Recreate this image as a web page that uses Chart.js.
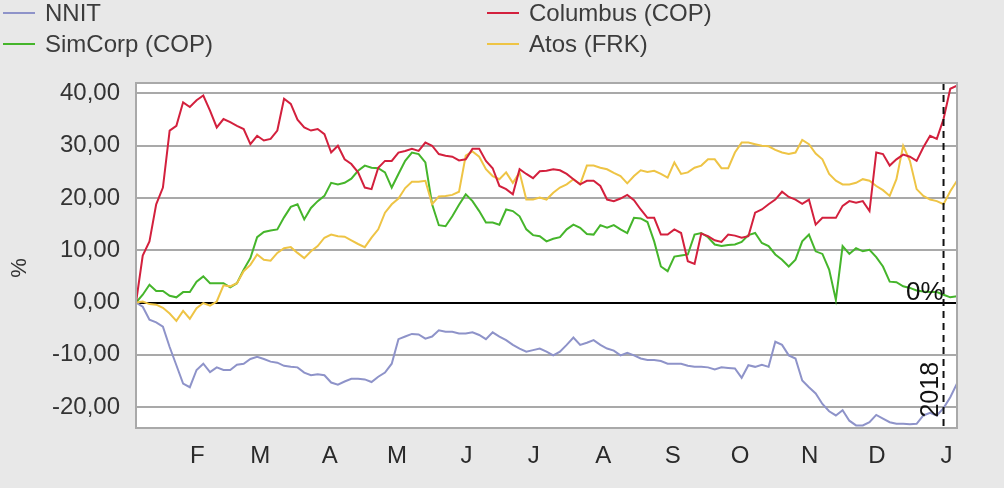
<!DOCTYPE html>
<html>
<head>
<meta charset="utf-8">
<script src="https://cdn.jsdelivr.net/npm/chart.js@4.4.1/dist/chart.umd.min.js"></script>
<style>
    html, body { margin: 0; padding: 0; background: #e8e8e8; }
    #wrap { position: relative; width: 1004px; height: 488px; overflow: hidden; }
    #perfChart { position: absolute; left: 0; top: 0; }
    .leg { position: absolute; font: 24px "Liberation Sans", Arial, sans-serif; color: #3c3c3c; line-height: 26px; white-space: nowrap; }
    .leg i { position: absolute; top: 12px; height: 2px; width: 32px; }
</style>
</head>
<body>
<div id="wrap">
    <canvas id="perfChart" width="1004" height="488"></canvas>
</div>
<script>
// --- DATA (one point every 3 days, day 0 = 6 Jan 2017) ---
const STEP_DAYS = 3;

const nnit = [
    0, -0.8, -3.3, -3.8, -4.6, -8.5, -12, -15.5, -16.2, -12.9,
    -11.7, -13.3, -12.4, -12.9, -12.9, -11.9, -11.7, -10.8, -10.4, -10.8,
    -11.3, -11.5, -12.1, -12.3, -12.4, -13.4, -13.9, -13.7, -13.9, -15.3,
    -15.7, -15.1, -14.6, -14.6, -14.7, -15.2, -14.2, -13.4, -11.7, -7,
    -6.5, -6, -6.1, -6.9, -6.5, -5.3, -5.6, -5.6, -5.9, -5.9,
    -5.7, -6.2, -7, -5.7, -6.5, -7.2, -8.1, -8.8, -9.4, -9.1,
    -8.8, -9.4, -10.1, -9.4, -8.1, -6.7, -8.1, -7.7, -7.2, -8.1,
    -8.8, -9.2, -10.1, -9.6, -10.1, -10.7, -11, -11, -11.2, -11.7,
    -11.7, -11.7, -12.1, -12.3, -12.3, -12.4, -12.8, -12.4, -12.5, -12.6,
    -14.4, -12, -12.3, -11.9, -12.3, -7.5, -8.1, -10.1, -10.7, -14.9,
    -16.2, -17.4, -19.4, -20.8, -21.6, -20.6, -22.6, -23.5, -23.5, -22.9,
    -21.5, -22.2, -22.9, -23.2, -23.2, -23.3, -23.2, -21.6, -21.1, -21.6,
    -20.2, -18.1, -15.5
];

const columbus = [
    0, 9, 11.7, 18.8, 22, 32.9, 33.8, 38.3, 37.4, 38.7,
    39.6, 36.7, 33.5, 35.1, 34.5, 33.8, 33.2, 30.3, 31.9, 31,
    31.3, 32.9, 39, 38, 35, 33.5, 32.9, 33.2, 32.2, 28.7,
    30, 27.4, 26.5, 24.9, 22, 21.7, 25.8, 27.1, 27.1, 28.7,
    29, 29.4, 29, 30.6, 30, 28.4, 28.1, 27.9, 27.2, 27.4,
    29.4, 29.4, 27.1, 25.7, 22.3, 21.7, 20.7, 25.5, 24.6, 23.8,
    25.1, 25.2, 25.5, 25.3, 24.6, 23.6, 22.6, 23.3, 23.3, 22.3,
    19.7, 19.4, 19.9, 20.6, 19.6, 17.8, 16.2, 16.2, 13, 13,
    14, 13.3, 7.9, 7.4, 13.2, 12.7, 11.9, 11.6, 13, 12.8,
    12.4, 12.7, 17.2, 17.8, 18.8, 19.7, 21.2, 20.2, 19.7, 18.9,
    19.7, 14.9, 16.2, 16.2, 16.2, 18.5, 19.4, 19.1, 19.4, 17.5,
    28.7, 28.4, 26.2, 27.4, 28.3, 27.9, 27.1, 29.7, 31.9, 31.3,
    35.1, 40.9, 41.5
];

const simcorp = [
    0, 1.5, 3.4, 2.2, 2.2, 1.3, 1, 2, 2, 4,
    5, 3.7, 3.7, 3.7, 2.9, 3.7, 6.3, 8.5, 12.5, 13.5,
    13.8, 14, 16.3, 18.3, 18.8, 15.9, 18.1, 19.4, 20.4, 22.9,
    22.6, 22.9, 23.7, 25.2, 26.2, 25.8, 25.7, 24.9, 22, 24.6,
    27.1, 28.7, 28.4, 26.8, 18.8, 14.8, 14.6, 16.5, 18.7, 20.7,
    19.4, 17.5, 15.3, 15.3, 14.9, 17.8, 17.5, 16.5, 14, 12.9,
    12.7, 11.7, 12.2, 12.5, 14, 14.9, 14.3, 13.1, 13, 14.8,
    14.3, 14.8, 14, 13.3, 16.2, 16.1, 15.4, 11.7, 6.9, 6,
    8.8, 9, 9.2, 13, 13.3, 12.5, 11.1, 10.8, 11, 11.1,
    11.6, 12.9, 13.3, 11.4, 10.8, 9.2, 8.2, 6.9, 8.2, 11.7,
    13, 9.8, 9.3, 6.3, 0.5, 10.8, 9.3, 10.4, 9.8, 10.1,
    8.7, 6.9, 4, 3.9, 3.1, 2.8, 2.3, 2.1, 2, 2,
    1.5, 1, 1.2
];

const atos = [
    0, 0.2, -0.3, -0.4, -1, -2.1, -3.5, -1.6, -3.1, -1.1,
    -0.1, -0.6, 0.2, 3.3, 3.1, 3.7, 6, 7.2, 9.2, 8.2,
    8, 9.5, 10.4, 10.6, 9.5, 8.5, 9.8, 10.8, 12.4, 13,
    12.7, 12.6, 11.9, 11.2, 10.6, 12.4, 14, 17.2, 18.8, 19.9,
    21.9, 23.1, 23.1, 23.3, 18.8, 20.3, 20.4, 20.6, 21.2, 28.1,
    28.9, 27.9, 25.5, 24.2, 23.6, 24.9, 22.9, 24.9, 19.7, 19.7,
    20.1, 19.7, 21, 22, 22.6, 23.6, 22.6, 26.2, 26.2, 25.8,
    25.5, 24.8, 24.2, 22.8, 24.2, 25.3, 25, 25.2, 24.6, 23.9,
    26.8, 24.6, 24.9, 25.8, 26.2, 27.4, 27.4, 25.7, 25.7, 28.7,
    30.6, 30.6, 30.3, 30, 29.9, 29.2, 28.7, 28.4, 28.7, 31.1,
    30.3, 28.5, 27.4, 24.6, 23.3, 22.6, 22.6, 22.9, 23.6, 23.3,
    22.3, 21.5, 20.4, 23.6, 30, 27.1, 21.7, 20.4, 19.7, 19.4,
    18.8, 21.3, 23.3
];

// month starts (days since start) and their letters
const monthStarts = [26, 54, 85, 115, 146, 176, 207, 238, 268, 299, 329, 360];
const monthLabels = ['F', 'M', 'A', 'M', 'J', 'J', 'A', 'S', 'O', 'N', 'D', 'J'];
const yTicks = [-20, -10, 0, 10, 20, 30, 40];
const yearMark = 360;
const yearLabel = '2018';

const SERIES = [
    { name: 'NNIT', values: nnit, color: '#8e93c9', col: 0, row: 0 },
    { name: 'Columbus (COP)', values: columbus, color: '#d3203d', col: 1, row: 0 },
    { name: 'SimCorp (COP)', values: simcorp, color: '#45b52b', col: 0, row: 1 },
    { name: 'Atos (FRK)', values: atos, color: '#eec445', col: 1, row: 1 }
];

const FONT = '"Liberation Sans", Arial, sans-serif';

// --- LEGEND (html, two columns) ---
function buildLegend() {
    const wrap = document.getElementById('wrap');
    const colX = [3, 487];
    const rowY = [0, 31];
    SERIES.forEach(s => {
        const el = document.createElement('div');
        el.className = 'leg';
        el.style.left = colX[s.col] + 'px';
        el.style.top = rowY[s.row] + 'px';
        el.style.paddingLeft = '42px';
        el.innerHTML = `<i style="left:0;background:${s.color}"></i>${s.name}`;
        wrap.appendChild(el);
    });
}

// --- PLOT FRAME + ANNOTATIONS ---
const framePlugin = {
    id: 'frame',
    beforeDraw(chart) {
        const { ctx, chartArea: a } = chart;
        ctx.save();
        ctx.fillStyle = '#ffffff';
        ctx.fillRect(a.left, a.top, a.right - a.left, a.bottom - a.top);
        ctx.restore();
    },
    afterDatasetsDraw(chart) {
        const { ctx, chartArea: a, scales } = chart;
        const x = scales.x.getPixelForValue(yearMark);
        const y0 = scales.y.getPixelForValue(0);
        ctx.save();
        // dashed year line
        ctx.strokeStyle = '#111';
        ctx.lineWidth = 2;
        ctx.setLineDash([7, 5]);
        ctx.beginPath();
        ctx.moveTo(x, a.top);
        ctx.lineTo(x, a.bottom);
        ctx.stroke();
        ctx.setLineDash([]);
        // 0% label
        ctx.fillStyle = '#111';
        ctx.font = '26px ' + FONT;
        ctx.textAlign = 'right';
        ctx.textBaseline = 'alphabetic';
        ctx.fillText('0%', x, y0 - 3);
        // 2018 label, rotated
        ctx.translate(x - 6, scales.y.getPixelForValue(-22));
        ctx.rotate(-Math.PI / 2);
        ctx.font = '25px ' + FONT;
        ctx.textAlign = 'left';
        ctx.fillText(yearLabel, 0, 0);
        ctx.restore();

        // frame
        ctx.save();
        ctx.strokeStyle = '#a9a9a9';
        ctx.lineWidth = 2;
        ctx.strokeRect(a.left, a.top, a.right - a.left, a.bottom - a.top);
        // y title
        ctx.fillStyle = '#333';
        ctx.font = '22px ' + FONT;
        ctx.translate(26, 268);
        ctx.rotate(-Math.PI / 2);
        ctx.textAlign = 'center';
        ctx.fillText('%', 0, 0);
        ctx.restore();
    }
};

// --- CHART ---
function initChart() {
    const days = nnit.map((_, i) => i * STEP_DAYS);
    new Chart(document.getElementById('perfChart'), {
        type: 'line',
        data: {
            datasets: SERIES.map((s, i) => ({
                label: s.name,
                data: days.map((d, j) => ({ x: d, y: s.values[j] })),
                borderColor: s.color,
                borderWidth: 2,
                pointRadius: 0,
                tension: 0,
                fill: false,
                order: i === 1 ? 0 : 4 - i
            }))
        },
        options: {
            responsive: false,
            animation: false,
            layout: { padding: { top: 83, right: 47, left: 0, bottom: 0 } },
            plugins: { legend: { display: false }, tooltip: { enabled: false } },
            scales: {
                x: {
                    type: 'linear',
                    min: 0,
                    max: 366,
                    grid: { display: false, drawTicks: false },
                    border: { display: false },
                    afterBuildTicks: s => { s.ticks = monthStarts.map(v => ({ value: v })); },
                    afterFit: s => { s.height = 60; },
                    ticks: {
                        autoSkip: false,
                        maxRotation: 0,
                        padding: 14,
                        labelOffset: 3,
                        color: '#2a2a2a',
                        font: { family: '"Liberation Sans Narrow", "Liberation Sans", Arial', size: 24 },
                        callback: (v, i) => monthLabels[i]
                    }
                },
                y: {
                    min: -24,
                    max: 42,
                    afterBuildTicks: s => { s.ticks = yTicks.map(v => ({ value: v })); },
                    afterFit: s => { s.width = 136; },
                    grid: {
                        drawTicks: false,
                        lineWidth: 2,
                        color: c => (c.tick && c.tick.value === 0) ? '#000' : '#a9a9a9'
                    },
                    border: { display: false },
                    ticks: {
                        padding: 16,
                        color: '#333',
                        font: { family: FONT, size: 24 },
                        callback: v => v.toFixed(2).replace('.', ',')
                    }
                }
            }
        },
        plugins: [framePlugin]
    });
}

buildLegend();
initChart();
</script>
</body>
</html>
